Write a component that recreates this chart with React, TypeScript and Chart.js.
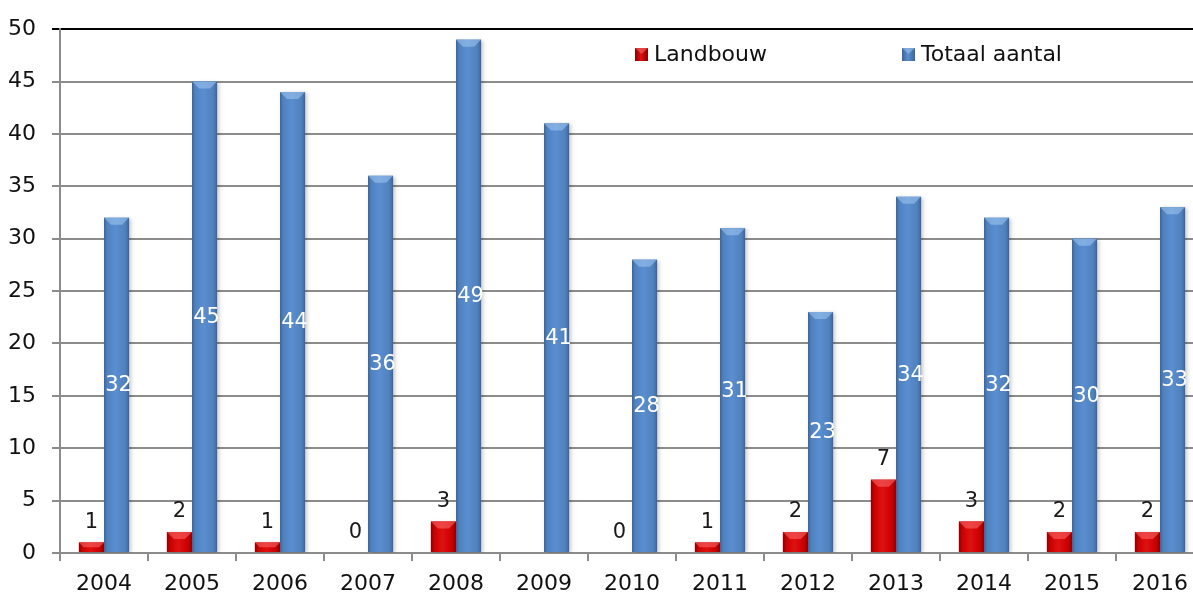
import React, { useEffect, useRef } from "react";
import { Chart, registerables } from "chart.js";

Chart.register(...registerables);

const years = ["2004", "2005", "2006", "2007", "2008", "2009", "2010", "2011", "2012", "2013", "2014", "2015", "2016"];
const landbouw: (number | null)[] = [1, 2, 1, 0, 3, null, 0, 1, 2, 7, 3, 2, 2];
const totaal: number[] = [32, 45, 44, 36, 49, 41, 28, 31, 23, 34, 32, 30, 33];
const seriesNames = ["Landbouw", "Totaal aantal"];

const FONT = "'DejaVu Sans', Verdana, sans-serif";
const RED = "#c80000";
const BLUE = "#4f81bd";

// Per-series shading colours: [edge dark, body, highlight, bevel]
const shades: Record<number, { dark: string; body: string; light: string; bevel: string }> = {
  0: { dark: "#8a0000", body: "#c80000", light: "#e01010", bevel: "rgba(255,120,120,0.5)" },
  1: { dark: "#3a659a", body: "#4f81bd", light: "#5b8ed0", bevel: "rgba(170,205,245,0.5)" },
};

const shadowPlugin = {
  id: "barShadow",
  beforeDatasetDraw(chart: any) {
    const ctx = chart.ctx;
    ctx.save();
    ctx.shadowColor = "rgba(0,0,0,0.22)";
    ctx.shadowBlur = 4;
    ctx.shadowOffsetX = 2;
    ctx.shadowOffsetY = 1;
  },
  afterDatasetDraw(chart: any) {
    chart.ctx.restore();
  },
};

const shadingPlugin = {
  id: "barShading",
  afterDatasetsDraw(chart: any) {
    const ctx = chart.ctx;
    chart.data.datasets.forEach((ds: any, di: number) => {
      const meta = chart.getDatasetMeta(di);
      const s = shades[di];
      meta.data.forEach((el: any, i: number) => {
        if (ds.data[i] === null || ds.data[i] === undefined) return;
        const { x, y, base, width } = el.getProps(["x", "y", "base", "width"], true);
        const left = x - width / 2;
        const right = x + width / 2;
        const h = base - y;
        if (h <= 0.5) return;
        ctx.save();
        const g = ctx.createLinearGradient(left, 0, right, 0);
        g.addColorStop(0, s.dark);
        g.addColorStop(0.12, s.body);
        g.addColorStop(0.45, s.light);
        g.addColorStop(0.85, s.body);
        g.addColorStop(1, s.dark);
        ctx.fillStyle = g;
        ctx.fillRect(left, y, width, h);
        // bevelled top
        const bh = Math.min(7, h / 2);
        ctx.fillStyle = s.bevel;
        ctx.beginPath();
        ctx.moveTo(left, y);
        ctx.lineTo(right, y);
        ctx.lineTo(right - bh, y + bh);
        ctx.lineTo(left + bh, y + bh);
        ctx.closePath();
        ctx.fill();
        ctx.restore();
      });
    });
  },
};

const labelPlugin = {
  id: "valueLabels",
  afterDatasetsDraw(chart: any) {
    const ctx = chart.ctx;
    ctx.save();
    ctx.font = `21px ${FONT}`;
    ctx.textAlign = "center";
    chart.data.datasets.forEach((ds: any, di: number) => {
      const meta = chart.getDatasetMeta(di);
      meta.data.forEach((el: any, i: number) => {
        const v = ds.data[i];
        if (v === null || v === undefined) return;
        const { x, y, base } = el.getProps(["x", "y", "base"], true);
        if (di === 0) {
          ctx.fillStyle = "#1a1a1a";
          ctx.textBaseline = "alphabetic";
          ctx.fillText(String(v), x, y - 15);
        } else {
          ctx.fillStyle = "#ffffff";
          ctx.textBaseline = "middle";
          ctx.fillText(String(v), x + 2, (y + base) / 2 + 1);
        }
      });
    });
    ctx.restore();
  },
};

const legendPlugin = {
  id: "insideLegend",
  afterDraw(chart: any) {
    const ctx = chart.ctx;
    const items = [
      { text: seriesNames[0], x: 635, di: 0 },
      { text: seriesNames[1], x: 902, di: 1 },
    ];
    ctx.save();
    ctx.font = `22px ${FONT}`;
    ctx.textBaseline = "middle";
    ctx.textAlign = "left";
    items.forEach((it) => {
      const s = shades[it.di];
      const top = 48;
      const size = 13;
      const g = ctx.createLinearGradient(it.x, 0, it.x + size, 0);
      g.addColorStop(0, s.dark);
      g.addColorStop(0.45, s.light);
      g.addColorStop(1, s.dark);
      ctx.fillStyle = g;
      ctx.fillRect(it.x, top, size, size);
      ctx.fillStyle = s.bevel;
      ctx.beginPath();
      ctx.moveTo(it.x, top);
      ctx.lineTo(it.x + size, top);
      ctx.lineTo(it.x + size / 2, top + 6);
      ctx.closePath();
      ctx.fill();
      ctx.fillStyle = "#111111";
      ctx.fillText(it.text, it.x + 19, 55);
    });
    ctx.restore();
  },
};

export default function App() {
  const canvasRef = useRef<HTMLCanvasElement | null>(null);

  useEffect(() => {
    if (!canvasRef.current) return;
    const chart = new Chart(canvasRef.current, {
      type: "bar",
      data: {
        labels: years,
        datasets: [
          { label: seriesNames[0], data: landbouw, backgroundColor: RED, borderWidth: 0 },
          { label: seriesNames[1], data: totaal, backgroundColor: BLUE, borderWidth: 0 },
        ],
      },
      options: {
        responsive: false,
        animation: false,
        events: [],
        layout: { padding: { top: 27, right: 2, left: 0, bottom: 0 } },
        datasets: {
          bar: { barPercentage: 1, categoryPercentage: 0.57 },
        },
        plugins: {
          legend: { display: false },
          tooltip: { enabled: false },
        },
        scales: {
          x: {
            grid: {
              display: true,
              offset: true,
              drawOnChartArea: false,
              drawTicks: true,
              tickLength: 8,
              color: "#8c8c8c",
              lineWidth: 2,
            },
            border: { display: true, color: "#8c8c8c", width: 2 },
            ticks: {
              color: "#111111",
              font: { family: FONT, size: 22 },
              padding: 10,
              maxRotation: 0,
            },
            afterFit(scale: any) {
              scale.height = 39;
            },
          },
          y: {
            min: 0,
            max: 50,
            grid: {
              color: (c: any) => (c.tick && c.tick.value === 50 ? "#000000" : "#8c8c8c"),
              lineWidth: 2,
              tickLength: 8,
              drawTicks: true,
            },
            border: { display: true, color: "#8c8c8c", width: 2 },
            ticks: {
              stepSize: 5,
              color: "#111111",
              font: { family: FONT, size: 22 },
              padding: 16,
            },
            afterFit(scale: any) {
              scale.width = 60;
            },
          },
        },
      },
      plugins: [shadowPlugin, shadingPlugin, labelPlugin, legendPlugin],
    });
    return () => chart.destroy();
  }, []);

  return (
    <div style={{ position: "fixed", left: 0, top: 0, right: 0, bottom: 0, overflow: "hidden", background: "#ffffff" }}>
      <canvas ref={canvasRef} width={1206} height={592} style={{ display: "block", position: "absolute", left: 0, top: 0 }} />
    </div>
  );
}
